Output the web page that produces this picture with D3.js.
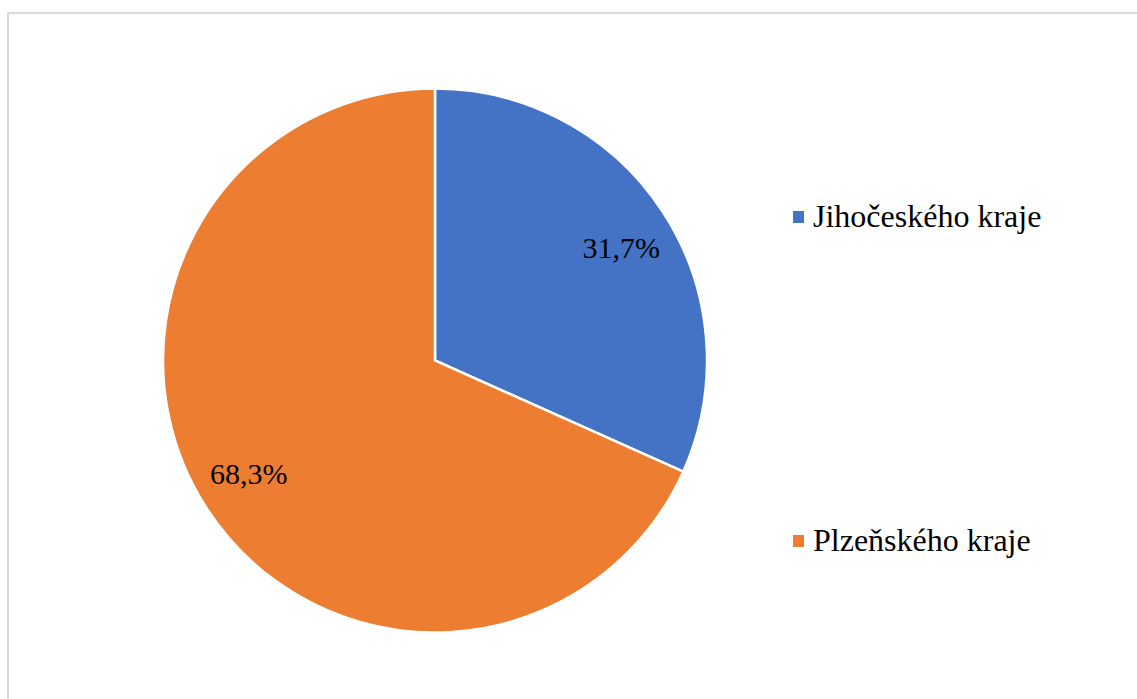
<!DOCTYPE html>
<html>
<head>
<meta charset="utf-8">
<script src="https://cdn.jsdelivr.net/npm/d3@7/dist/d3.min.js"></script>
<style>
  html, body { margin: 0; padding: 0; background: #fff; }
  svg { display: block; }
  .serif { font-family: "Liberation Serif", "Times New Roman", Times, "DejaVu Serif", serif; }
</style>
</head>
<body>
<svg id="chart" width="1137" height="699"></svg>
<script>
// Share of respondents by region
const categories = ["Jihočeského kraje", "Plzeňského kraje"];
const values = [31.7, 68.3];
const labels = ["31,7%", "68,3%"];
const colors = ["#4472C4", "#ED7D31"];

const svg = d3.select("#chart");
const W = 1137, H = 699;

// chart area frame (extends beyond the right and bottom edges)
svg.append("rect")
  .attr("x", 8).attr("y", 13)
  .attr("width", W + 20).attr("height", H + 20)
  .attr("fill", "#fff")
  .attr("stroke", "#d9d9d9")
  .attr("stroke-width", 2);

const cx = 435, cy = 360.5, R = 272;

const data = categories.map((c, i) => ({ name: c, value: values[i], label: labels[i], color: colors[i] }));

const pie = d3.pie().value(d => d.value).sort(null);
const arc = d3.arc().innerRadius(0).outerRadius(R);
const labelArc = d3.arc().innerRadius(R * 0.785).outerRadius(R * 0.785);

const g = svg.append("g").attr("transform", `translate(${cx},${cy})`);
const arcs = pie(data);

g.selectAll("path.slice")
  .data(arcs)
  .enter().append("path")
  .attr("class", "slice")
  .attr("d", arc)
  .attr("fill", d => d.data.color)
  .attr("stroke", "#fff")
  .attr("stroke-width", 2.5)
  .attr("stroke-linejoin", "miter");

g.selectAll("text.lbl")
  .data(arcs)
  .enter().append("text")
  .attr("class", "lbl serif")
  .attr("x", d => labelArc.centroid(d)[0] * 1.04)
  .attr("y", d => labelArc.centroid(d)[1] * 0.97)
  .attr("text-anchor", "middle")
  .attr("dominant-baseline", "central")
  .attr("font-size", 30)
  .attr("fill", "#000")
  .text(d => d.data.label);

// legend
const legendY = d3.scalePoint().domain(categories).range([211, 535]);
const lg = svg.append("g");
const items = lg.selectAll("g.item")
  .data(data)
  .enter().append("g")
  .attr("class", "item")
  .attr("transform", d => `translate(793,${legendY(d.name)})`);

items.append("rect")
  .attr("x", 0).attr("y", 0)
  .attr("width", 11).attr("height", 12)
  .attr("fill", d => d.color);

items.append("text")
  .attr("class", "serif")
  .attr("x", 20).attr("y", 16)
  .attr("font-size", 32)
  .attr("fill", "#000")
  .text(d => d.name);
</script>
</body>
</html>
